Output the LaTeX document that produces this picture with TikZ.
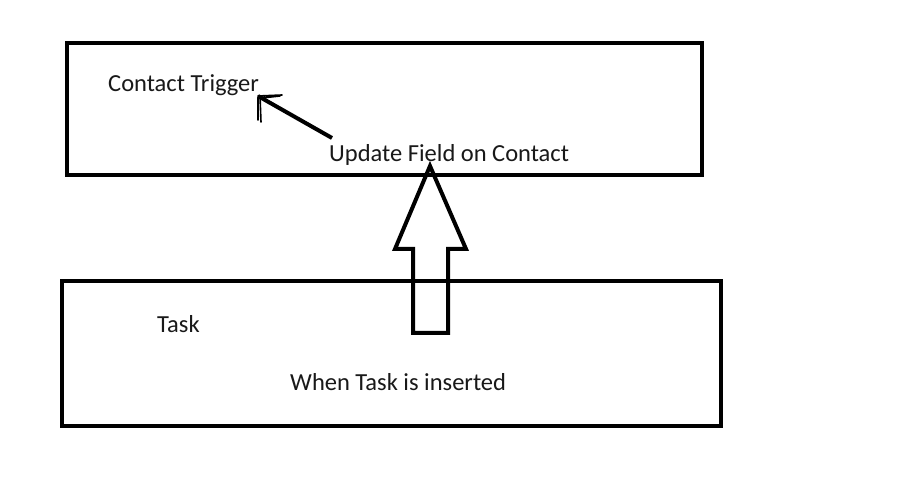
\documentclass[tikz,border=0pt]{standalone}
\usepackage{fontspec}
\setmainfont{Carlito}
\usetikzlibrary{positioning}
\tikzset{
  flowbox/.style={draw=black,line width=4pt,minimum width=#1,inner sep=0pt},
  boxlabel/.style={anchor=base west,inner sep=0pt,font=\fontsize{24.5}{29}\selectfont,text=black!90},
  bigarrow/.style={draw=black,line width=4pt,miter limit=10},
  pointer/.style={draw=black,line width=4pt},
  pointerhead/.style={draw=black,line width=1.6pt,line cap=round}
}
\begin{document}
\begin{tikzpicture}[x=1pt,y=-1pt]
  \useasboundingbox[fill=white] (0,0) rectangle (906,486);
  % the two boxes
  \node[flowbox=635pt,minimum height=132pt] (contactbox) at (384.5,109) {};
  \node[flowbox=659pt,minimum height=145pt] (taskbox) at (391.5,353.5) {};

  \node[boxlabel] (trigger) at (108,92) {Contact Trigger};
  \node[boxlabel] (update) at (329,161.5) {Update Field on Contact};
  \node[boxlabel] (task) at (157,332.5) {Task};
  \node[boxlabel] (inserted) at (290,391) {When Task is inserted};

  % hollow arrow from task box up to contact box
  \draw[bigarrow] (413,333) -- (413,249) -- (395,249) -- (430,166)
    -- (466,249) -- (448,249) -- (448,333) -- cycle;

  % hand drawn pointer
  \coordinate (ptrstart) at (332,138);
  \coordinate (ptrtip) at (258,96);
  \draw[pointer] (ptrstart) -- (ptrtip);
  \draw[pointerhead] (ptrtip) -- ++(24,-1) (ptrtip) ++(2,0) -- ++(1,26)
    (ptrtip) ++(4,2) -- ++(18,-2) (ptrtip) ++(0,2) -- ++(0,22);
\end{tikzpicture}
\end{document}
